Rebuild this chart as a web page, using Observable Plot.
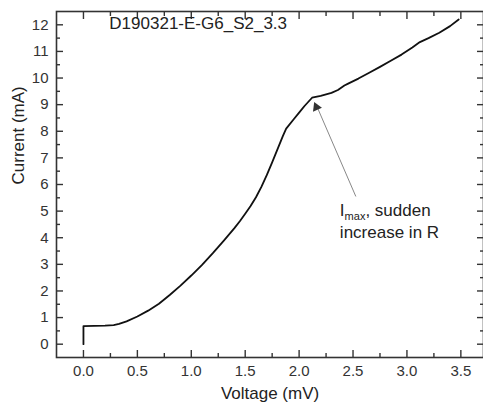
<!DOCTYPE html>
<html><head><meta charset="utf-8">
<script src="https://cdn.jsdelivr.net/npm/d3@7"></script>
<script src="https://cdn.jsdelivr.net/npm/@observablehq/plot@0.6"></script>
<style>
body{margin:0;background:#fff;}
#chart svg{display:block;}
</style></head><body><div id="chart"></div>
<script>
// Voltage (mV) and Current (mA)
const voltage = [0.00,0.00,0.10,0.20,0.28,0.33,0.40,0.50,0.60,0.70,0.80,0.90,1.00,1.10,1.20,1.30,1.40,1.45,1.50,1.55,1.60,1.65,1.70,1.75,1.80,1.85,1.88,1.95,2.00,2.05,2.12,2.20,2.30,2.36,2.42,2.45,2.55,2.65,2.75,2.85,2.95,3.05,3.12,3.20,3.30,3.40,3.48];
const current = [0.00,0.68,0.69,0.70,0.72,0.76,0.86,1.04,1.26,1.52,1.85,2.20,2.58,2.98,3.42,3.88,4.36,4.62,4.90,5.19,5.52,5.91,6.35,6.83,7.33,7.83,8.10,8.45,8.70,8.95,9.26,9.33,9.44,9.55,9.72,9.78,9.98,10.20,10.42,10.65,10.88,11.15,11.35,11.50,11.70,11.95,12.20];

const xTicks = [0, 0.5, 1, 1.5, 2, 2.5, 3, 3.5];
const xMinor = [0.25, 0.75, 1.25, 1.75, 2.25, 2.75, 3.25];
const yTicks = [0,1,2,3,4,5,6,7,8,9,10,11,12];
const yMinor = [0.5,1.5,2.5,3.5,4.5,5.5,6.5,7.5,8.5,9.5,10.5,11.5];

const sampleLabel = ["D190321-E-G6_S2_3.3"];
const annotLines = ["Imax, sudden", "increase in R"];
const xLabel = "Voltage (mV)";
const yLabel = "Current (mA)";

// annotation arrow: tail near the text, head at the I_max kink
const arrowTail = {v: 2.526, c: 5.55};
const arrowHead = {v: 2.16, c: 8.98};

const curve = voltage.map((v, i) => ({v, c: current[i]}));

const FONT = "'Liberation Sans', Arial, sans-serif";
const TICKCOL = "#333";

function tickAxesX(ticks, len) {
  return [
    Plot.axisX(ticks, {anchor: "bottom", tickSize: len, dy: -len, fill: "none", label: null, stroke: TICKCOL, strokeWidth: 1.4}),
    Plot.axisX(ticks, {anchor: "top", tickSize: len, dy: len, fill: "none", label: null, stroke: TICKCOL, strokeWidth: 1.4})
  ];
}
function tickAxesY(ticks, len) {
  return [
    Plot.axisY(ticks, {anchor: "left", tickSize: len, dx: len, fill: "none", label: null, stroke: TICKCOL, strokeWidth: 1.4}),
    Plot.axisY(ticks, {anchor: "right", tickSize: len, dx: -len, fill: "none", label: null, stroke: TICKCOL, strokeWidth: 1.4})
  ];
}

const chart = Plot.plot({
  width: 483,
  height: 411,
  marginLeft: 56,
  marginRight: 0,
  marginTop: 11,
  marginBottom: 54,
  style: {fontFamily: FONT, background: "#fff", color: "#222"},
  x: {domain: [-0.25, 3.71]},
  y: {domain: [-0.5, 12.5]},
  marks: [
    Plot.axisX(xTicks, {anchor: "bottom", tickSize: 0, tickPadding: 8, tickFormat: d3.format(".1f"), label: null, fontSize: 15, fill: "#333"}),
    Plot.axisY(yTicks, {anchor: "left", tickSize: 0, tickPadding: 8, label: null, fontSize: 15, fill: "#333"}),
    ...tickAxesX(xTicks, 7),
    ...tickAxesX(xMinor, 4),
    ...tickAxesY(yTicks, 7),
    ...tickAxesY(yMinor, 4),
    Plot.frame({stroke: "#333", strokeWidth: 1.6}),
    Plot.line(curve, {x: "v", y: "c", stroke: "#111", strokeWidth: 1.8}),
    Plot.link([{t: arrowTail, h: arrowHead}], {x1: d => d.t.v, y1: d => d.t.c, x2: d => d.h.v, y2: d => d.h.c, stroke: "#888", strokeWidth: 1}),
    Plot.dot([arrowHead], {x: "v", y: "c", symbol: "triangle", r: 3.6, fill: "#333", stroke: "none", rotate: -23, dy: 2}),
    Plot.text(sampleLabel, {x: 0.24, y: 12.05, text: d => d, textAnchor: "start", fontSize: 17, fill: "#222"}),
    Plot.text([annotLines[0]], {x: 2.378, y: 5.02, text: d => d, textAnchor: "start", fontSize: 17, fill: "#222"}),
    Plot.text([annotLines[1]], {x: 2.378, y: 4.2, text: d => d, textAnchor: "start", fontSize: 17, fill: "#222"}),
    Plot.text([xLabel], {frameAnchor: "bottom", dy: 41, text: d => d, fontSize: 17, fill: "#222"}),
    Plot.text([yLabel], {frameAnchor: "left", dx: -38, rotate: -90, text: d => d, fontSize: 17, fill: "#222"})
  ]
});

// subscript "max" in the annotation
const ns = "http://www.w3.org/2000/svg";
chart.querySelectorAll("text").forEach(t => {
  if (t.textContent === annotLines[0]) {
    t.textContent = "";
    const a = document.createElementNS(ns, "tspan"); a.textContent = "I";
    const b = document.createElementNS(ns, "tspan"); b.textContent = "max"; b.setAttribute("font-size", "11"); b.setAttribute("dy", "4");
    const c = document.createElementNS(ns, "tspan"); c.textContent = ", sudden"; c.setAttribute("dy", "-4");
    t.append(a, b, c);
  }
});
document.getElementById("chart").append(chart);
</script></body></html>
